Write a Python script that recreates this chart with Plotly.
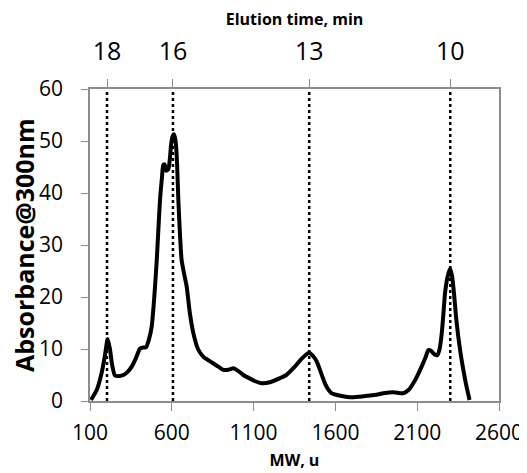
import plotly.graph_objects as go

# MW (u) and absorbance at 300 nm
mw = [106, 141, 171, 190, 208, 222, 235, 253, 280, 304, 330, 355, 380, 406, 425, 442, 460, 477,
      493, 508, 518, 528, 540, 548, 557, 565, 579, 588, 595, 604, 612, 620, 626, 633, 640, 650,
      660, 675, 691, 710, 732, 760, 793, 825, 854, 885, 915, 945, 976, 1005, 1037, 1078, 1119,
      1149, 1200, 1261, 1300, 1343, 1390, 1420, 1440, 1462, 1486, 1510, 1536, 1557, 1577, 1630,
      1689, 1740, 1791, 1850, 1893, 1954, 2015, 2050, 2076, 2100, 2127, 2150, 2168, 2182, 2195,
      2210, 2223, 2237, 2250, 2262, 2270, 2285, 2301, 2313, 2325, 2338, 2351, 2366, 2382, 2400, 2420]
absorbance = [0.2, 2.1, 5.4, 8.5, 11.9, 10.0, 7.0, 4.9, 4.8, 5.0, 5.6, 6.6, 8.2, 10.1, 10.3, 10.3, 11.8, 14.3,
              20.0, 27.1, 33.0, 38.7, 43.0, 45.4, 45.5, 44.3, 44.6, 46.5, 49.1, 50.8, 51.3, 50.6, 49.1, 45.0, 38.7, 32.0,
              27.1, 24.5, 22.0, 17.0, 13.0, 10.0, 8.5, 7.8, 7.2, 6.6, 6.0, 6.0, 6.3, 5.8, 5.0, 4.3, 3.7,
              3.4, 3.6, 4.4, 5.0, 6.3, 8.0, 8.9, 9.3, 8.7, 7.6, 5.6, 3.4, 2.2, 1.5, 1.0,
              0.7, 0.8, 1.0, 1.2, 1.5, 1.7, 1.5, 2.2, 3.4, 4.8, 6.6, 8.3, 9.8, 9.7, 9.3,
              8.9, 8.8, 10.0, 13.0, 17.5, 20.7, 23.8, 25.5, 24.0, 20.7, 16.0, 12.4, 9.0, 6.0, 3.0, 0.2]

# Elution-time markers (top axis)
elution_times = [18, 16, 13, 10]
elution_mw = [204, 607, 1440, 2302]

x_ticks = [100, 600, 1100, 1600, 2100, 2600]
y_ticks = [0, 10, 20, 30, 40, 50, 60]
y_max = 60

FONT = "Open Sans"
AX = "#8c8c8c"

# dotted vertical guide lines, built from the marker arrays
gx, gy = [], []
for m in elution_mw:
    gx += [m, m, None]
    gy += [0, y_max, None]

fig = go.Figure()
fig.add_trace(go.Scatter(x=gx, y=gy, mode="lines",
                         line=dict(color="black", width=2.5, dash="dot"),
                         hoverinfo="skip", showlegend=False))
fig.add_trace(go.Scatter(x=mw, y=absorbance, mode="lines",
                         line=dict(color="black", width=4, shape="spline", smoothing=0.6),
                         showlegend=False))
# invisible trace to anchor the top axis
fig.add_trace(go.Scatter(x=elution_mw, y=[None] * len(elution_mw), xaxis="x2",
                         mode="markers", marker=dict(opacity=0), showlegend=False,
                         hoverinfo="skip"))

fig.update_layout(
    width=527, height=473,
    margin=dict(l=82, r=36, t=81, b=80),
    paper_bgcolor="white", plot_bgcolor="white",
    font=dict(family=FONT, color="black"),
    xaxis=dict(range=[100, 2600], tickvals=x_ticks, ticktext=[str(v) for v in x_ticks],
               automargin=False,
               showgrid=False, zeroline=False, showline=True, linecolor=AX, linewidth=1.5,
               mirror=True, ticks="outside", ticklen=8, tickcolor=AX, tickwidth=1.2,
               ticklabelstandoff=4,
               tickfont=dict(size=21, family=FONT),
               title=dict(text="<b>MW, u</b>", font=dict(size=16, family=FONT), standoff=10)),
    xaxis2=dict(range=[100, 2600], overlaying="x", side="top", anchor="y",
                automargin=False,
                tickvals=elution_mw, ticktext=[str(v) for v in elution_times],
                showgrid=False, zeroline=False, showline=False,
                ticks="outside", ticklen=9, tickcolor=AX, tickwidth=1.2,
                ticklabelstandoff=9,
                tickfont=dict(size=25, family=FONT),
                title=dict(text="<b>Elution time, min</b>", font=dict(size=16, family=FONT), standoff=3)),
    yaxis=dict(range=[0, y_max], tickvals=y_ticks, ticktext=[str(v) for v in y_ticks],
               automargin=False,
               showgrid=False, zeroline=False, showline=True, linecolor=AX, linewidth=1.5,
               mirror=True, ticks="outside", ticklen=7, tickcolor=AX, tickwidth=1.2,
               ticklabelstandoff=14,
               tickfont=dict(size=21, family=FONT)),
    annotations=[dict(text="<b>Absorbance@300nm</b>", textangle=-90,
                      xref="paper", yref="paper", x=0, y=0.5,
                      xanchor="center", yanchor="middle", xshift=-66,
                      showarrow=False, font=dict(size=25, family=FONT, color="black"))],
)

fig.write_html("out.html")
